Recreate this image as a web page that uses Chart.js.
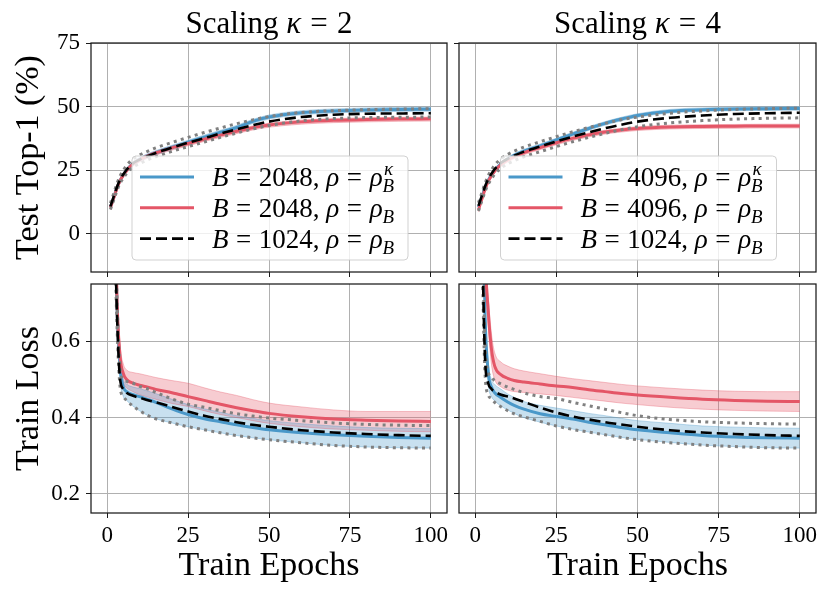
<!DOCTYPE html>
<html>
<head>
<meta charset="utf-8">
<script src="https://cdn.jsdelivr.net/npm/chart.js@4.4.1/dist/chart.umd.min.js"></script>
<style>
  body { margin: 0; background: #fff; width: 831px; height: 595px; position: relative; overflow: hidden; }
  canvas { position: absolute; }
</style>
</head>
<body>
<canvas id="tl" width="450" height="280" style="left:0;top:0"></canvas>
<canvas id="tr" width="381" height="280" style="left:450px;top:0"></canvas>
<canvas id="bl" width="450" height="315" style="left:0;top:280px"></canvas>
<canvas id="br" width="381" height="315" style="left:450px;top:280px"></canvas>
<script>
'use strict';

// sampled epochs (shared by every curve)
const EPOCHS = [1, 2, 3, 4, 5, 6, 8, 10, 12, 15, 20, 25, 30, 35, 40, 45, 50, 60, 70, 80, 90, 100];
const X_TICKS = [0, 25, 50, 75, 100];
const ACC_TICKS = [0, 25, 50, 75];
const LOSS_TICKS = [0.2, 0.4, 0.6];

// ---- Test top-1, kappa = 2 ----
const tlBlue   = [10.5, 14.2, 18.0, 21.0, 23.2, 25.0, 27.6, 29.2, 30.4, 31.9, 34.0, 36.0, 38.0, 39.9, 41.8, 44.2, 45.9, 47.6, 48.3, 48.7, 48.9, 49.0];
const tlBlueHi = [11.3, 15.0, 18.8, 21.8, 24.0, 25.8, 28.4, 30.0, 31.2, 32.7, 34.8, 36.8, 38.8, 40.7, 42.6, 45.0, 46.7, 48.4, 49.1, 49.5, 49.7, 49.8];
const tlBlueLo = [9.7, 13.4, 17.2, 20.2, 22.4, 24.2, 26.8, 28.4, 29.6, 31.1, 33.2, 35.2, 37.2, 39.1, 41.0, 43.4, 45.1, 46.8, 47.5, 47.9, 48.1, 48.2];
const tlRed    = [10.3, 14.0, 17.8, 20.9, 23.1, 24.9, 27.5, 29.1, 30.3, 31.8, 33.8, 35.5, 37.2, 38.8, 40.3, 41.7, 42.8, 44.0, 44.6, 44.9, 45.1, 45.2];
const tlRedHi  = [11.0, 14.7, 18.5, 21.6, 23.8, 25.6, 28.2, 29.8, 31.0, 32.5, 34.5, 36.2, 37.9, 39.5, 41.0, 42.4, 43.5, 44.7, 45.3, 45.6, 45.8, 45.9];
const tlRedLo  = [9.4, 13.1, 16.9, 20.0, 22.2, 24.0, 26.6, 28.2, 29.4, 30.9, 32.9, 34.6, 36.3, 37.9, 39.4, 40.8, 41.9, 43.1, 43.7, 44.0, 44.2, 44.3];
const tlBlack  = [10.8, 14.5, 18.3, 21.3, 23.4, 25.2, 27.7, 29.2, 30.3, 31.8, 33.9, 35.8, 37.6, 39.4, 41.1, 42.7, 44.1, 45.9, 46.8, 47.2, 47.3, 47.4];
const tlGrayHi = [12.0, 15.8, 19.7, 22.8, 25.0, 26.9, 29.4, 31.0, 32.2, 33.8, 35.9, 37.9, 39.8, 41.6, 43.3, 44.8, 46.1, 47.7, 48.4, 48.8, 49.0, 49.2];
const tlGrayLo = [9.6, 13.2, 16.9, 19.9, 21.9, 23.7, 26.2, 27.6, 28.8, 30.3, 32.4, 34.3, 36.1, 37.9, 39.6, 41.2, 42.6, 44.4, 45.3, 45.7, 45.8, 45.9];

// ---- Test top-1, kappa = 4 ----
const trBlue   = [10.5, 14.2, 18.0, 21.0, 23.2, 25.0, 27.6, 29.4, 30.8, 32.5, 34.6, 36.9, 39.2, 41.4, 43.4, 45.1, 46.5, 48.2, 48.8, 49.1, 49.2, 49.3];
const trBlueHi = [11.2, 14.9, 18.7, 21.7, 23.9, 25.7, 28.3, 30.1, 31.5, 33.2, 35.3, 37.6, 39.9, 42.1, 44.1, 45.8, 47.2, 48.9, 49.5, 49.8, 49.9, 50.0];
const trBlueLo = [9.8, 13.5, 17.3, 20.3, 22.5, 24.3, 26.9, 28.7, 30.1, 31.8, 33.9, 36.2, 38.5, 40.7, 42.7, 44.4, 45.8, 47.5, 48.1, 48.4, 48.5, 48.6];
const trRed    = [9.4, 13.5, 17.4, 20.6, 22.8, 24.7, 27.3, 29.0, 30.3, 31.9, 33.9, 35.8, 37.5, 38.9, 40.0, 40.8, 41.4, 42.0, 42.2, 42.3, 42.4, 42.4];
const trRedHi  = [10.1, 14.2, 18.1, 21.3, 23.5, 25.4, 28.0, 29.7, 31.0, 32.6, 34.6, 36.5, 38.2, 39.6, 40.7, 41.5, 42.1, 42.7, 42.9, 43.0, 43.1, 43.1];
const trRedLo  = [8.6, 12.7, 16.6, 19.8, 22.0, 23.9, 26.5, 28.2, 29.5, 31.1, 33.1, 35.0, 36.7, 38.1, 39.2, 40.0, 40.6, 41.2, 41.4, 41.5, 41.6, 41.6];
const trBlack  = [11.0, 14.8, 18.5, 21.5, 23.6, 25.4, 27.9, 29.5, 30.7, 32.3, 34.3, 36.3, 38.2, 39.9, 41.5, 42.9, 44.1, 45.6, 46.5, 47.1, 47.4, 47.6];
const trGrayHi = [12.2, 16.0, 19.8, 22.9, 25.1, 27.0, 29.6, 31.2, 32.5, 34.1, 36.2, 38.2, 40.1, 41.8, 43.4, 44.8, 45.9, 47.4, 48.3, 48.9, 49.2, 49.4];
const trGrayLo = [9.0, 12.8, 16.5, 19.5, 21.6, 23.4, 25.9, 27.5, 28.7, 30.3, 32.3, 34.3, 36.2, 37.9, 39.5, 40.9, 42.1, 43.6, 44.5, 45.1, 45.4, 45.6];

// ---- Train loss, kappa = 2 ----
const blBlue   = [1.60, 1.10, 0.70, 0.53, 0.480, 0.468, 0.460, 0.455, 0.449, 0.440, 0.423, 0.408, 0.397, 0.389, 0.381, 0.374, 0.368, 0.360, 0.355, 0.351, 0.348, 0.346];
const blBlueHi = [1.64, 1.14, 0.73, 0.555, 0.500, 0.488, 0.480, 0.476, 0.471, 0.463, 0.448, 0.434, 0.423, 0.414, 0.405, 0.398, 0.392, 0.384, 0.378, 0.374, 0.372, 0.371];
const blBlueLo = [1.56, 1.06, 0.67, 0.50, 0.455, 0.445, 0.430, 0.418, 0.408, 0.397, 0.386, 0.376, 0.368, 0.360, 0.353, 0.347, 0.342, 0.334, 0.327, 0.323, 0.321, 0.320];
const blRed    = [1.80, 1.20, 0.72, 0.56, 0.515, 0.500, 0.490, 0.485, 0.481, 0.474, 0.465, 0.455, 0.445, 0.435, 0.426, 0.418, 0.411, 0.402, 0.396, 0.393, 0.391, 0.390];
const blRedHi  = [1.85, 1.25, 0.76, 0.59, 0.540, 0.525, 0.518, 0.515, 0.511, 0.505, 0.497, 0.490, 0.478, 0.467, 0.458, 0.447, 0.438, 0.428, 0.420, 0.416, 0.416, 0.416];
const blRedLo  = [1.75, 1.15, 0.68, 0.53, 0.490, 0.478, 0.468, 0.460, 0.455, 0.448, 0.437, 0.429, 0.418, 0.408, 0.400, 0.392, 0.385, 0.376, 0.370, 0.367, 0.364, 0.363];
const blBlack  = [1.55, 1.05, 0.68, 0.50, 0.475, 0.465, 0.457, 0.452, 0.447, 0.440, 0.428, 0.416, 0.405, 0.396, 0.388, 0.381, 0.376, 0.367, 0.361, 0.357, 0.354, 0.352];
const blGrayHi = [1.60, 1.10, 0.72, 0.53, 0.500, 0.495, 0.490, 0.482, 0.477, 0.466, 0.449, 0.435, 0.427, 0.418, 0.410, 0.404, 0.399, 0.392, 0.386, 0.382, 0.380, 0.379];
const blGrayLo = [1.50, 1.00, 0.65, 0.48, 0.455, 0.445, 0.430, 0.418, 0.408, 0.397, 0.386, 0.376, 0.368, 0.360, 0.353, 0.347, 0.342, 0.334, 0.327, 0.323, 0.321, 0.320];

// ---- Train loss, kappa = 4 ----
const brBlue   = [1.70, 1.20, 0.68, 0.52, 0.480, 0.465, 0.452, 0.441, 0.432, 0.422, 0.410, 0.403, 0.396, 0.388, 0.381, 0.374, 0.368, 0.360, 0.353, 0.349, 0.347, 0.346];
const brBlueHi = [1.74, 1.24, 0.71, 0.545, 0.500, 0.487, 0.474, 0.462, 0.453, 0.442, 0.432, 0.425, 0.418, 0.411, 0.405, 0.398, 0.392, 0.385, 0.378, 0.375, 0.373, 0.372];
const brBlueLo = [1.66, 1.16, 0.65, 0.49, 0.455, 0.444, 0.430, 0.420, 0.411, 0.400, 0.388, 0.378, 0.370, 0.362, 0.355, 0.348, 0.343, 0.335, 0.328, 0.324, 0.321, 0.320];
const brRed    = [1.90, 1.40, 0.85, 0.68, 0.580, 0.535, 0.512, 0.503, 0.497, 0.493, 0.488, 0.483, 0.479, 0.473, 0.468, 0.463, 0.459, 0.453, 0.448, 0.445, 0.443, 0.442];
const brRedHi  = [1.95, 1.45, 0.89, 0.72, 0.620, 0.570, 0.545, 0.535, 0.528, 0.522, 0.515, 0.508, 0.502, 0.497, 0.492, 0.487, 0.483, 0.477, 0.472, 0.469, 0.468, 0.468];
const brRedLo  = [1.85, 1.35, 0.81, 0.64, 0.540, 0.500, 0.480, 0.472, 0.468, 0.466, 0.462, 0.458, 0.453, 0.448, 0.443, 0.438, 0.434, 0.427, 0.422, 0.419, 0.417, 0.416];
const brBlack  = [1.50, 0.95, 0.56, 0.49, 0.475, 0.468, 0.460, 0.455, 0.450, 0.441, 0.426, 0.413, 0.403, 0.395, 0.388, 0.382, 0.376, 0.367, 0.361, 0.357, 0.354, 0.352];
const brGrayHi = [1.55, 1.00, 0.60, 0.52, 0.505, 0.497, 0.488, 0.480, 0.474, 0.465, 0.455, 0.450, 0.440, 0.431, 0.422, 0.413, 0.405, 0.395, 0.389, 0.386, 0.384, 0.383];
const brGrayLo = [1.45, 0.90, 0.52, 0.46, 0.450, 0.440, 0.428, 0.418, 0.410, 0.402, 0.390, 0.378, 0.369, 0.362, 0.355, 0.348, 0.342, 0.334, 0.328, 0.324, 0.321, 0.320];

// legend text, written as pieces so the math can be set (italic, sub/superscript)
const LEG_K2 = [
  [{t: 'B', it: 1}, {t: '=', pad: 0.28}, {t: '2048, '}, {t: 'ρ', it: 1}, {t: '=', pad: 0.28}, {t: 'ρ', it: 1}, {sub: 'B', sup: 'κ'}],
  [{t: 'B', it: 1}, {t: '=', pad: 0.28}, {t: '2048, '}, {t: 'ρ', it: 1}, {t: '=', pad: 0.28}, {t: 'ρ', it: 1}, {sub: 'B'}],
  [{t: 'B', it: 1}, {t: '=', pad: 0.28}, {t: '1024, '}, {t: 'ρ', it: 1}, {t: '=', pad: 0.28}, {t: 'ρ', it: 1}, {sub: 'B'}]
];
const LEG_K4 = [
  [{t: 'B', it: 1}, {t: '=', pad: 0.28}, {t: '4096, '}, {t: 'ρ', it: 1}, {t: '=', pad: 0.28}, {t: 'ρ', it: 1}, {sub: 'B', sup: 'κ'}],
  [{t: 'B', it: 1}, {t: '=', pad: 0.28}, {t: '4096, '}, {t: 'ρ', it: 1}, {t: '=', pad: 0.28}, {t: 'ρ', it: 1}, {sub: 'B'}],
  [{t: 'B', it: 1}, {t: '=', pad: 0.28}, {t: '1024, '}, {t: 'ρ', it: 1}, {t: '=', pad: 0.28}, {t: 'ρ', it: 1}, {sub: 'B'}]
];

const FONT = '"Liberation Serif", "Times New Roman", serif';
const BLUE = 'rgb(74,152,201)';
const RED = 'rgb(228,86,103)';
const BLUE_BAND = 'rgba(74,152,201,0.3)';
const RED_BAND = 'rgba(228,86,103,0.3)';
const GRAY = 'rgb(128,128,128)';

function pts(arr) {
  return EPOCHS.map((e, i) => ({x: e, y: arr[i]}));
}

function drawRich(ctx, parts, x, y, size, align) {
  const items = [];
  let w = 0;
  parts.forEach(p => {
    if (p.sub !== undefined || p.sup !== undefined) {
      const f = 'italic ' + (size * 0.7) + 'px ' + FONT;
      ctx.font = f;
      const ws = p.sub ? ctx.measureText(p.sub).width : 0;
      const wp = p.sup ? ctx.measureText(p.sup).width : 0;
      items.push({script: p, x: w, f});
      w += Math.max(ws, wp + size * 0.05);
    } else {
      const f = (p.it ? 'italic ' : '') + size + 'px ' + FONT;
      ctx.font = f;
      const pad = (p.pad || 0) * size;
      w += pad;
      items.push({t: p.t, x: w, f});
      w += ctx.measureText(p.t).width + pad;
    }
  });
  const x0 = align === 'center' ? x - w / 2 : x;
  ctx.save();
  ctx.textAlign = 'left';
  ctx.textBaseline = 'alphabetic';
  ctx.fillStyle = '#000';
  items.forEach(it => {
    ctx.font = it.f;
    if (it.script) {
      if (it.script.sub) ctx.fillText(it.script.sub, x0 + it.x, y + size * 0.22);
      if (it.script.sup) ctx.fillText(it.script.sup, x0 + it.x + size * 0.05, y - size * 0.42);
    } else {
      ctx.fillText(it.t, x0 + it.x, y);
    }
  });
  ctx.restore();
}

// frame on all four sides, like the matplotlib spines
const framePlugin = {
  id: 'frame',
  afterDatasetsDraw(chart) {
    const {ctx, chartArea: a} = chart;
    ctx.save();
    ctx.strokeStyle = '#1a1a1a';
    ctx.lineWidth = 1.25;
    ctx.strokeRect(a.left, a.top, a.right - a.left, a.bottom - a.top);
    ctx.restore();
  }
};

const panelTextPlugin = {
  id: 'panelText',
  afterDraw(chart, args, opts) {
    const {ctx, chartArea: a} = chart;
    if (opts.title) {
      drawRich(ctx, opts.title, (a.left + a.right) / 2, 33, 31, 'center');
    }
    if (opts.legend) {
      const bw = 276, bh = 104;
      const bx = (a.left + a.right) / 2 - bw / 2 + 1;
      const by = a.bottom - 12 - bh;
      ctx.save();
      ctx.beginPath();
      ctx.roundRect(bx, by, bw, bh, 4);
      ctx.fillStyle = 'rgba(255,255,255,0.8)';
      ctx.fill();
      ctx.strokeStyle = 'rgba(204,204,204,0.9)';
      ctx.lineWidth = 1;
      ctx.stroke();
      const styles = [
        {color: BLUE, width: 3, dash: []},
        {color: RED, width: 3, dash: []},
        {color: '#000', width: 2.6, dash: [11, 5]}
      ];
      opts.legend.forEach((parts, i) => {
        const cy = by + 21 + i * 30.8;
        const st = styles[i];
        ctx.beginPath();
        ctx.setLineDash(st.dash);
        ctx.strokeStyle = st.color;
        ctx.lineWidth = st.width;
        ctx.moveTo(bx + 8, cy);
        ctx.lineTo(bx + 62, cy);
        ctx.stroke();
        ctx.setLineDash([]);
        drawRich(ctx, parts, bx + 80, cy + 9, 27, 'left');
      });
      ctx.restore();
    }
  }
};

function makeChart(id, cfg) {
  const s = cfg.series;
  const line = {pointRadius: 0, cubicInterpolationMode: 'monotone', borderCapStyle: 'butt'};
  const datasets = [
    Object.assign({label: 'blueHi', data: pts(s[1]), fill: '+1', backgroundColor: BLUE_BAND, borderColor: 'rgba(74,152,201,0.35)', borderWidth: 1, order: 5}, line),
    Object.assign({label: 'blueLo', data: pts(s[2]), fill: false, borderColor: 'rgba(74,152,201,0.35)', borderWidth: 1, order: 5}, line),
    Object.assign({label: 'redHi', data: pts(s[4]), fill: '+1', backgroundColor: RED_BAND, borderColor: 'rgba(228,86,103,0.35)', borderWidth: 1, order: 5}, line),
    Object.assign({label: 'redLo', data: pts(s[5]), fill: false, borderColor: 'rgba(228,86,103,0.35)', borderWidth: 1, order: 5}, line),
    Object.assign({label: 'blue', data: pts(s[0]), fill: false, borderColor: BLUE, borderWidth: 3, order: 3}, line),
    Object.assign({label: 'red', data: pts(s[3]), fill: false, borderColor: RED, borderWidth: 3, order: 2}, line),
    Object.assign({label: 'grayHi', data: pts(s[7]), fill: false, borderColor: GRAY, borderWidth: 3, borderDash: [3, 4.3], order: 1}, line),
    Object.assign({label: 'grayLo', data: pts(s[8]), fill: false, borderColor: GRAY, borderWidth: 3, borderDash: [3, 4.3], order: 1}, line),
    Object.assign({label: 'black', data: pts(s[6]), fill: false, borderColor: '#000', borderWidth: 2.6, borderDash: [11, 5], order: 0}, line)
  ];
  const tickFont = {family: FONT, size: 23};
  const titleFont = {family: FONT, size: 34};
  const gridOpts = {color: '#b0b0b0', lineWidth: 1, tickLength: 5, tickColor: '#1a1a1a', drawTicks: true};
  return new Chart(document.getElementById(id), {
    type: 'line',
    data: {datasets},
    plugins: [framePlugin, panelTextPlugin],
    options: {
      responsive: false,
      maintainAspectRatio: false,
      animation: false,
      events: [],
      layout: {padding: {top: cfg.padTop, right: cfg.padRight, left: 0, bottom: 0}},
      plugins: {
        legend: {display: false},
        tooltip: {enabled: false},
        filler: {drawTime: 'beforeDatasetsDraw'},
        panelText: {title: cfg.title, legend: cfg.legend}
      },
      scales: {
        x: {
          type: 'linear',
          min: -5,
          max: 105,
          afterBuildTicks: sc => { sc.ticks = X_TICKS.map(v => ({value: v})); },
          afterFit: sc => { sc.height = cfg.xHeight; sc.paddingLeft = 0; sc.paddingRight = 0; },
          ticks: {display: cfg.xLabels, font: tickFont, color: '#000', padding: 4, maxRotation: 0, autoSkip: false},
          grid: gridOpts,
          border: {display: false},
          title: {display: cfg.xLabels, text: 'Train Epochs', font: titleFont, color: '#000', padding: {top: 0, bottom: 9}}
        },
        y: {
          type: 'linear',
          min: cfg.yMin,
          max: cfg.yMax,
          afterBuildTicks: sc => { sc.ticks = cfg.yTicks.map(v => ({value: v})); },
          afterFit: sc => { sc.width = cfg.yWidth; sc.paddingTop = 0; sc.paddingBottom = 0; },
          ticks: {display: cfg.yLabels, font: tickFont, color: '#000', padding: 6, callback: v => String(v)},
          grid: gridOpts,
          border: {display: false},
          title: {display: cfg.yLabels, text: cfg.yTitle, font: titleFont, color: '#000', padding: {top: 9, bottom: 0}}
        }
      }
    }
  });
}

const TITLE_K2 = [{t: 'Scaling '}, {t: 'κ', it: 1}, {t: '=', pad: 0.3}, {t: '2'}];
const TITLE_K4 = [{t: 'Scaling '}, {t: 'κ', it: 1}, {t: '=', pad: 0.3}, {t: '4'}];

makeChart('tl', {
  series: [tlBlue, tlBlueHi, tlBlueLo, tlRed, tlRedHi, tlRedLo, tlBlack, tlGrayHi, tlGrayLo],
  title: TITLE_K2, legend: LEG_K2,
  padTop: 43, padRight: 3, xHeight: 8, yWidth: 91, xLabels: false, yLabels: true,
  yMin: -15, yMax: 75, yTicks: ACC_TICKS, yTitle: 'Test Top-1 (%)'
});
makeChart('tr', {
  series: [trBlue, trBlueHi, trBlueLo, trRed, trRedHi, trRedLo, trBlack, trGrayHi, trGrayLo],
  title: TITLE_K4, legend: LEG_K4,
  padTop: 43, padRight: 15, xHeight: 8, yWidth: 9, xLabels: false, yLabels: false,
  yMin: -15, yMax: 75, yTicks: ACC_TICKS, yTitle: ''
});
makeChart('bl', {
  series: [blBlue, blBlueHi, blBlueLo, blRed, blRedHi, blRedLo, blBlack, blGrayHi, blGrayLo],
  padTop: 4, padRight: 3, xHeight: 82, yWidth: 91, xLabels: true, yLabels: true,
  yMin: 0.15, yMax: 0.75, yTicks: LOSS_TICKS, yTitle: 'Train Loss'
});
makeChart('br', {
  series: [brBlue, brBlueHi, brBlueLo, brRed, brRedHi, brRedLo, brBlack, brGrayHi, brGrayLo],
  padTop: 4, padRight: 15, xHeight: 82, yWidth: 9, xLabels: true, yLabels: false,
  yMin: 0.15, yMax: 0.75, yTicks: LOSS_TICKS, yTitle: ''
});
</script>
</body>
</html>
